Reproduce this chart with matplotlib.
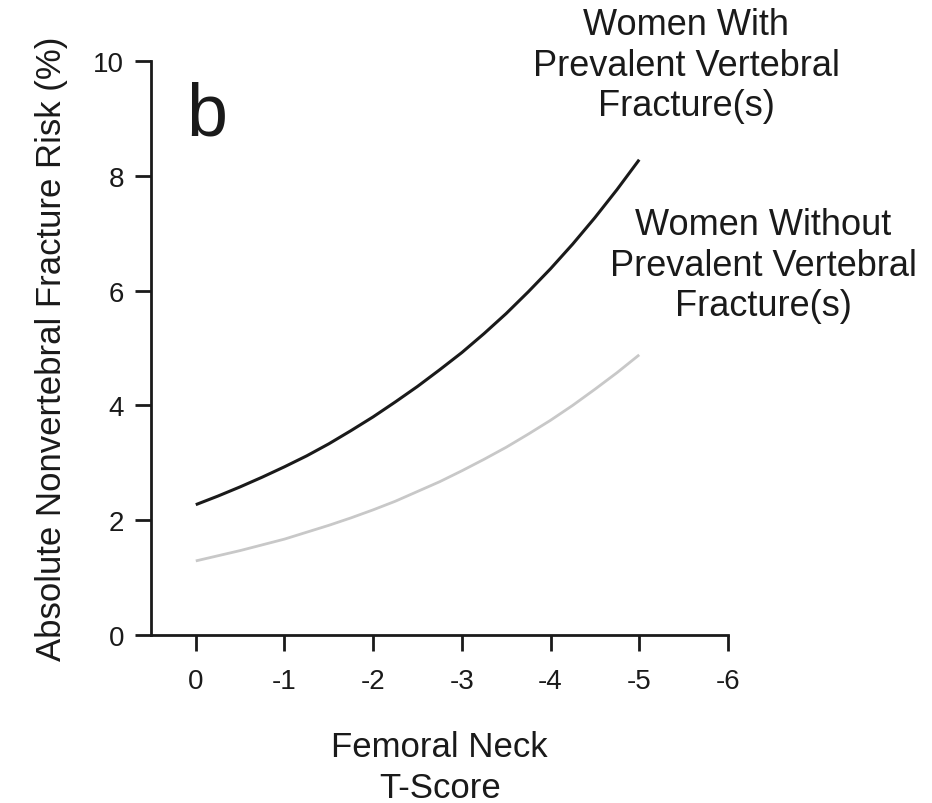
import matplotlib.pyplot as plt

plt.rcParams['font.family'] = ['Liberation Sans', 'DejaVu Sans']

# femoral neck T-score and absolute risk (%) for the two groups
t_score = [0, -0.25, -0.5, -0.75, -1, -1.25, -1.5, -1.75, -2, -2.25, -2.5,
           -2.75, -3, -3.25, -3.5, -3.75, -4, -4.25, -4.5, -4.75, -5]
risk_with = [2.27, 2.42, 2.58, 2.75, 2.93, 3.12, 3.33, 3.56, 3.80, 4.06, 4.33,
             4.62, 4.92, 5.25, 5.60, 5.98, 6.38, 6.81, 7.27, 7.76, 8.28]
risk_without = [1.29, 1.38, 1.47, 1.57, 1.67, 1.79, 1.91, 2.04, 2.18, 2.33, 2.50,
                2.67, 2.86, 3.06, 3.27, 3.50, 3.74, 4.00, 4.28, 4.57, 4.88]

x_ticks = [0, -1, -2, -3, -4, -5, -6]
y_ticks = [0, 2, 4, 6, 8, 10]

fig = plt.figure(figsize=(9.32, 8.04), dpi=100)
ax = fig.add_axes([0.1625, 0.2090, 0.6185, 0.7139])

ax.plot(t_score, risk_with, color='#1a1a1a', lw=2.2, solid_capstyle='butt')
ax.plot(t_score, risk_without, color='#c8c8c8', lw=2.0, solid_capstyle='butt')

ax.set_xlim(0.5, -6)
ax.set_ylim(0, 10)
ax.set_xticks(x_ticks)
ax.set_xticklabels([str(v) for v in x_ticks])
ax.set_yticks(y_ticks)

for side in ['top', 'right']:
    ax.spines[side].set_visible(False)
for side in ['left', 'bottom']:
    ax.spines[side].set_linewidth(2.0)
    ax.spines[side].set_color('#1a1a1a')

ax.tick_params(axis='both', direction='out', length=11.5, width=2.0,
               color='#1a1a1a', labelsize=20, labelcolor='#1a1a1a')
ax.tick_params(axis='x', pad=12)
ax.tick_params(axis='y', pad=8)

ax.set_xlabel('Femoral Neck\nT-Score', fontsize=25, color='#1a1a1a',
              labelpad=26, linespacing=1.3)
ax.set_ylabel('Absolute Nonvertebral Fracture Risk (%)', fontsize=25,
              color='#1a1a1a', labelpad=18)

# panel letter
ax.text(0.06, 0.966, 'b', transform=ax.transAxes, fontsize=53,
        color='#1a1a1a', va='top', ha='left')

# curve labels
fig.text(686 / 932, 1 - 66 / 804, 'Women With\nPrevalent Vertebral\nFracture(s)',
         fontsize=26, ha='center', va='center', color='#1a1a1a', linespacing=1.22)
fig.text(763 / 932, 1 - 266 / 804, 'Women Without\nPrevalent Vertebral\nFracture(s)',
         fontsize=26, ha='center', va='center', color='#1a1a1a', linespacing=1.22)

fig.savefig('out.png', dpi=100)
